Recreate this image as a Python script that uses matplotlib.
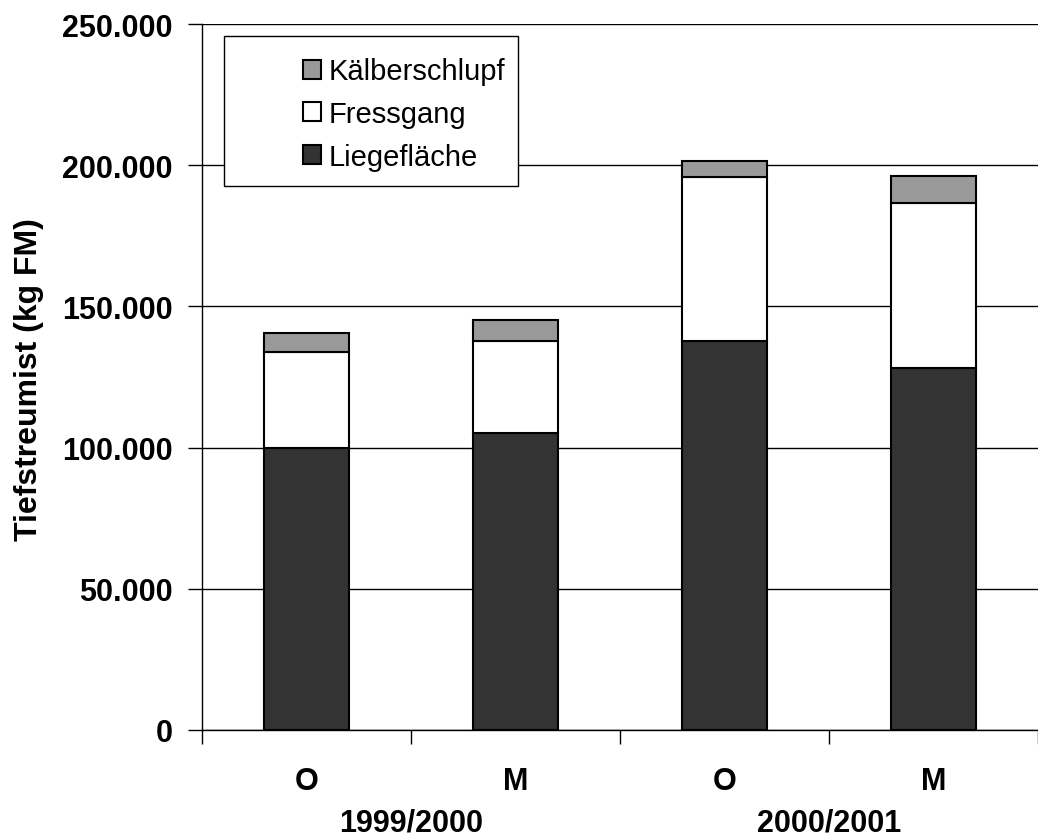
import matplotlib
matplotlib.use("Agg")
import matplotlib.pyplot as plt
from matplotlib.ticker import FuncFormatter, FixedLocator
from matplotlib.patches import Rectangle
import numpy as np

plt.rcParams['font.family'] = ['Liberation Sans', 'DejaVu Sans']

categories = ["O", "M", "O", "M"]
groups = ["1999/2000", "2000/2001"]
liegeflaeche = [100000, 105200, 137700, 128200]
fressgang = [33900, 32550, 58100, 58400]
kaelberschlupf = [6700, 7450, 5650, 9550]
series_names = ["Liegefläche", "Fressgang", "Kälberschlupf"]
colors = ["#333333", "#ffffff", "#999999"]

W, H = 1038, 837
fig = plt.figure(figsize=(W / 100, H / 100), dpi=100)
ax = fig.add_axes([202 / W, 1 - 731 / H, 1 - 202 / W, (731 - 25) / H])

x = np.arange(len(categories))
bw = 86 / 212
bottom = np.zeros(len(categories))
handles = []
for vals, name, c in zip([liegeflaeche, fressgang, kaelberschlupf], series_names, colors):
    b = ax.bar(x, vals, bw, bottom=bottom, color=c, edgecolor="black", linewidth=1.5,
               label=name, zorder=3)
    handles.append(b)
    bottom = bottom + np.array(vals)

ax.set_xlim(-0.5, -0.5 + (W - 202) / 212)
ax.set_ylim(0, 250000)
ax.yaxis.set_major_locator(FixedLocator(np.arange(0, 250001, 50000)))
ax.yaxis.set_major_formatter(FuncFormatter(lambda v, p: f"{int(v):,}".replace(",", ".")))
ax.grid(axis="y", color="black", linewidth=1, zorder=0)
ax.set_axisbelow(True)

for s in ["top", "right"]:
    ax.spines[s].set_visible(False)
for s in ["left", "bottom"]:
    ax.spines[s].set_color("black")
    ax.spines[s].set_linewidth(1)

ax.tick_params(axis="y", direction="out", length=10, width=1, labelsize=22, pad=11)
for lab in ax.get_yticklabels():
    lab.set_fontweight("bold")

ax.set_xticks(x)
ax.set_xticklabels(categories, fontsize=22, fontweight="bold")
ax.tick_params(axis="x", which="major", length=0, pad=26)
ax.set_xticks(np.arange(-0.5, len(categories) + 0.5, 1), minor=True)
ax.tick_params(axis="x", which="minor", direction="out", length=10, width=1)

for i, g in enumerate(groups):
    ax.text(2 * i + 0.5, -(832 - 731) / 706, g, transform=ax.get_xaxis_transform(),
            ha="center", va="baseline", fontsize=22, fontweight="bold")

ax.set_ylabel("Tiefstreumist (kg FM)", fontsize=23, fontweight="bold")
ax.yaxis.set_label_coords(-(202 - 44) / (W - 202), (731 - 380) / 706)

# legend frame
fig.patches.append(Rectangle((224 / W, 1 - 187 / H), (518 - 224) / W, (187 - 37) / H,
                             transform=fig.transFigure, facecolor="white",
                             edgecolor="black", linewidth=1, zorder=5))
leg = fig.legend(handles[::-1], series_names[::-1], loc="upper left",
                 bbox_to_anchor=(283 / W, 1 - 38 / H), frameon=False, fontsize=21,
                 handlelength=0.62, handleheight=0.62, handletextpad=0.25,
                 labelspacing=0.5, borderpad=0.2)
leg.set_zorder(6)

fig.savefig("out.png", dpi=100)
